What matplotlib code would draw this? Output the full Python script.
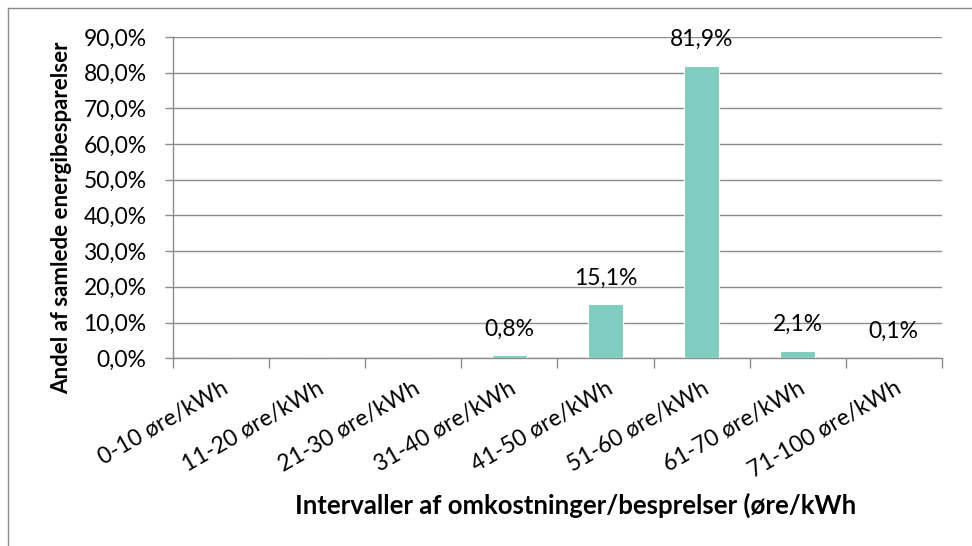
import matplotlib.pyplot as plt
from matplotlib.lines import Line2D

plt.rcParams['font.family'] = ['Lato', 'DejaVu Sans']

categories = ['0-10 øre/kWh', '11-20 øre/kWh', '21-30 øre/kWh', '31-40 øre/kWh',
              '41-50 øre/kWh', '51-60 øre/kWh', '61-70 øre/kWh', '71-100 øre/kWh']
values = [None, None, None, 0.8, 15.1, 81.9, 2.1, 0.1]
yticks = [0, 10, 20, 30, 40, 50, 60, 70, 80, 90]

grid_col = '#8c8c8c'
bar_col = '#7ecdbf'
fs = 16.5

fig = plt.figure(figsize=(9.72, 5.46), dpi=100)
ax = fig.add_axes([0.178, 0.344, 0.791, 0.588])

x = list(range(len(categories)))
heights = [v if v is not None else 0 for v in values]
ax.bar(x, heights, width=0.36, color=bar_col, edgecolor='white', linewidth=0.8, zorder=3)

for xi, v in zip(x, values):
    if v is None:
        continue
    ax.annotate(f'{v:.1f}%'.replace('.', ','), (xi, v), xytext=(0, 19),
                textcoords='offset points', ha='center', va='center', fontsize=fs)

ax.set_xlim(-0.5, len(categories) - 0.5)
ax.set_ylim(0, 90)
ax.set_yticks(yticks)
ax.set_yticklabels([f'{t:.1f}%'.replace('.', ',') for t in yticks], fontsize=fs)
ax.yaxis.grid(True, color=grid_col, linewidth=1, zorder=0)
ax.tick_params(axis='y', length=6, color=grid_col, width=1, pad=13)

# category boundaries carry the tick marks, labels sit at centres
ax.set_xticks([i - 0.5 for i in range(len(categories) + 1)])
ax.set_xticklabels([])
ax.set_xticks(x, minor=True)
ax.set_xticklabels(categories, minor=True, rotation=30, ha='right',
                   rotation_mode='anchor', fontsize=fs)
ax.tick_params(axis='x', which='major', length=7, color=grid_col, width=1)
ax.tick_params(axis='x', which='minor', length=0, pad=14)

for s in ['top', 'right']:
    ax.spines[s].set_visible(False)
for s in ['left', 'bottom']:
    ax.spines[s].set_color(grid_col)
    ax.spines[s].set_linewidth(1)

fig.text(62 / 972, 1 - 218 / 546, 'Andel af samlede energibesparelser', rotation=90,
         ha='center', va='center', fontsize=16, fontweight='bold')
fig.text(576 / 972, 1 - 505 / 546, 'Intervaller af omkostninger/besprelser (øre/kWh',
         ha='center', va='center', fontsize=18.5, fontweight='bold')

# chart area border (left and top edges visible)
fig.add_artist(Line2D([8 / 972, 8 / 972], [0, 1 - 8 / 546], color='#8c8c8c', linewidth=1))
fig.add_artist(Line2D([8 / 972, 1], [1 - 8 / 546, 1 - 8 / 546], color='#8c8c8c', linewidth=1))

fig.savefig('out.png', dpi=100)
